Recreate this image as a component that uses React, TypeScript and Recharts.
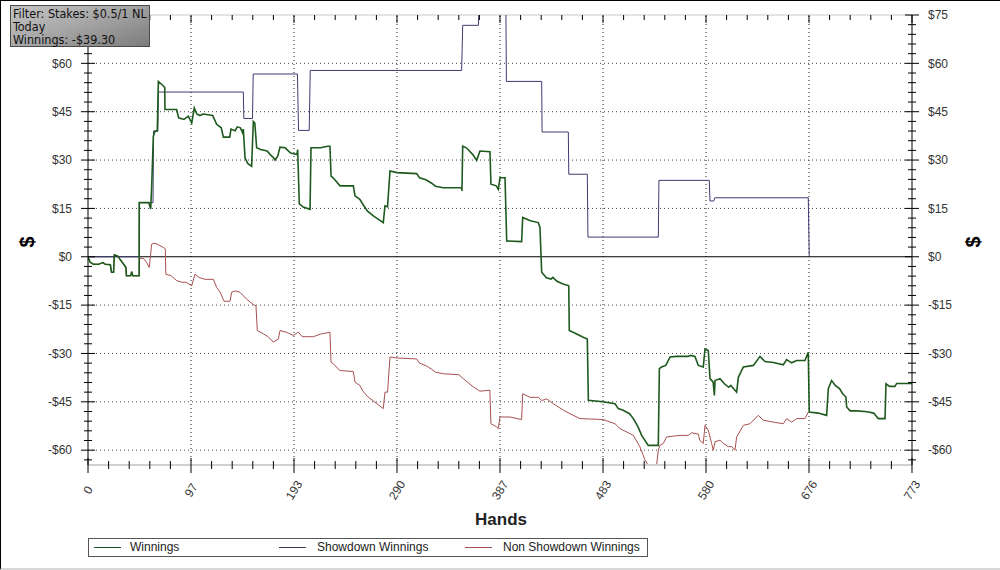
import React from 'react';
import { LineChart, Line, XAxis, YAxis, ReferenceLine } from 'recharts';

// ---- Data (hands, cumulative $) ----
const winningsHands = [
  0, 2, 5, 10, 14, 16, 21, 22, 24, 24.7, 28, 30, 35.6, 36, 40, 41, 42, 48, 48.1, 57,
  58.8, 59.7, 61.3, 62.9, 65, 66, 70, 72, 72.2, 83.2, 85, 90, 94.1, 97.3, 99.7, 102, 105, 108, 117, 120.7,
  125, 127, 133, 134.1, 138, 140, 143, 145, 145.7, 147.3, 150, 153.5, 155.1, 156.5, 158.2, 162, 168, 171, 174, 175.4,
  178, 180.1, 185, 190, 196, 196.7, 198.2, 202, 208.3, 209.2, 218, 225, 227, 228, 230, 236.4, 248.9, 250.5, 255, 258,
  262, 268, 277, 278.6, 281, 283.3, 290, 308.3, 311, 317, 322, 326, 333.3, 350.5, 350.8, 351.5, 355, 361, 364.6, 367.7,
  377.1, 378, 383, 384.9, 386.5, 391.2, 392.8, 406.8, 407.8, 415, 422.4, 424, 425.6, 430, 434.4, 436, 440, 445, 451, 451.5,
  458, 464, 468.4, 469.4, 483, 494.4, 497.5, 502, 508, 511.6, 516, 519.4, 525.6, 535, 536, 538, 542, 546, 552, 563,
  565, 569.4, 572.5, 577.2, 578.8, 581.9, 583.5, 586.5, 587.6, 588.2, 592.9, 597, 601, 603, 608.5, 610.1, 614.8, 624.2, 630.4, 635.1,
  643, 652.3, 655.4, 660, 664.8, 672.6, 675.7, 676.6, 685, 692.9, 694.5, 697.6, 701, 705, 708, 711, 711.7, 715, 721, 731,
  737, 741.4, 747.7, 748.6, 752, 757, 758.6, 773,
];
const winningsValues = [
  0, -1.7, -2.3, -2.3, -1.8, -2.3, -2.5, -4.8, -4.8, 0.6, 0.2, -0.8, -3.3, -5.9, -5.9, -4.6, -5.9, -5.9, 16.8, 16.8,
  14.8, 21.4, 37.4, 39, 39, 54.4, 53.2, 52.5, 45.7, 45.7, 43.1, 42.6, 43.6, 41.5, 46.2, 44.3, 43.8, 44.3, 43.8, 41.1,
  40, 37.1, 37.1, 39.6, 39.1, 40.3, 40, 38.5, 39.6, 30.7, 28.9, 28.1, 42, 41.5, 33.8, 33.3, 32.8, 31.7, 30.7, 30,
  31.2, 34, 33.8, 32.2, 31.7, 33.2, 16.4, 15.4, 14.7, 33.8, 33.8, 34.3, 34.3, 25, 24.5, 22, 22, 18.9, 17.8, 16.2,
  14.2, 12.6, 10.6, 15.8, 15.5, 26.6, 26.1, 25.8, 24.5, 23.9, 22.9, 21.9, 21.4, 21.4, 20.4, 34.3, 33.8, 31.7, 29.9, 32.8,
  32.6, 22.5, 22, 20.9, 24.5, 24.5, 4.9, 4.7, 12.2, 11.2, 10.6, 9.1, -4.8, -6.5, -6.9, -6.4, -7.6, -8.4, -9, -22.9,
  -23.9, -24.9, -25.5, -44.5, -45, -45.6, -47.1, -47.6, -48.7, -50.2, -52.8, -55.4, -58.5, -58.5, -34.7, -34.2, -33.7, -31.1, -30.9, -30.9,
  -30.6, -30.9, -33.7, -34.2, -28.6, -29.1, -37.8, -38.9, -43, -38.4, -37.8, -39.4, -40.5, -39.9, -42, -37.4, -34.2, -33.7, -30.9, -32.5,
  -32.8, -33.5, -31.9, -32.9, -32.2, -32.2, -29.6, -48.2, -48.5, -49.2, -40.9, -38.4, -39.9, -40.9, -42.5, -43.5, -46.6, -47.8, -47.8, -48.1,
  -48.5, -50.2, -50.2, -39.4, -40.2, -40.2, -39.3, -39.3,
];

const showdownHands = [
  0, 48, 48.1, 61, 61.5, 65.5, 66, 145.7, 146.2, 154.3, 155, 196.5, 197.5, 207.5, 208.5, 350.5, 351.5, 366.2, 367, 392,
  392.5, 425.6, 426, 450.6, 451, 468.4, 469, 535, 535.6, 582.8, 583.5, 587, 588, 675.7, 676.6,
];
const showdownValues = [
  0, 0, 16.8, 16.8, 39, 39, 51.1, 51.1, 42.9, 42.9, 56.7, 56.7, 39.2, 39.2, 57.8, 57.8, 71.8, 71.8, 78, 78,
  54.4, 54.4, 38.7, 38.7, 25.6, 25.6, 6.1, 6.1, 23.7, 23.7, 17.3, 17.3, 18.3, 18.3, 0,
];

const nonShowdownHands = [
  48.1, 52, 55, 57.5, 59.7, 62, 65, 70.6, 72.5, 73, 78, 83.2, 87.9, 92, 97.3, 100.4, 104, 109.8, 117.6, 120.7,
  124, 127.6, 133.2, 134.8, 138, 142.6, 148.9, 155, 157.6, 158.8, 164.5, 169, 173.9, 178.6, 180.1, 186, 192.6, 197.3, 201, 211.4,
  218, 227, 228, 230, 236.4, 248.9, 250.5, 255, 258, 262, 268, 277, 278.6, 281, 283.3, 290, 308.3, 311, 317, 322,
  326, 333.3, 348, 352, 361.5, 367.7, 377, 378, 383, 384.9, 386.5, 395.9, 406.8, 407.8, 414.7, 422.4, 425.6, 430.3, 436.6, 446,
  452.2, 461.5, 483.3, 494.4, 499, 511.6, 517.8, 520.9, 522.5, 525.6, 533.4, 535, 536.6, 539.7, 542.8, 555.3, 563.1, 566.3, 572.5, 574,
  577.2, 578.8, 581.9, 585, 586.6, 588.2, 592.9, 596, 600.7, 603.8, 606.9, 608.5, 614.8, 621, 628.8, 633.5, 642.9, 652.3, 655.4, 660.1,
  664.8, 672.6, 675.7,
];
const nonShowdownValues = [
  -0.5, -0.5, -1.8, -3.3, 3.9, 4.2, 3.9, 2.9, 2.5, -5.4, -5.9, -7.4, -7.9, -7.9, -9, -5.4, -6.4, -7, -7, -9.5,
  -11, -13.8, -13.8, -11, -10.6, -11, -13.2, -14.8, -15.2, -22.9, -23.9, -24.8, -26.5, -25.5, -22.9, -23.4, -24.4, -23.4, -24.8, -24.8,
  -24, -23.4, -32.7, -33.2, -35.3, -35.6, -38.9, -39.9, -41.7, -43.3, -44.8, -47.1, -42, -42, -31.1, -31.4, -31.7, -33, -33.8, -34.8,
  -35.8, -36.3, -36.6, -37.8, -40.4, -41.7, -41.4, -51.8, -52.7, -53.3, -49.7, -49.7, -50.5, -42.5, -43.6, -43.6, -44.6, -44.1, -45.6, -47.6,
  -48.7, -50.2, -50.5, -51.8, -53.3, -55.4, -59, -61.6, -63.1, -64.7, -64.7, -60, -58.5, -57.9, -55.9, -55.4, -55.4, -54.6, -55, -57,
  -57.9, -52.3, -53.8, -57.9, -60, -57.4, -56.9, -57.9, -58.9, -58.9, -60, -55.9, -52.3, -51.8, -49.2, -50.7, -51.3, -51.8, -50.2, -51.3,
  -50.2, -50.2, -48.2,
];

// early non-showdown hands coincide with winnings (no showdown yet)
const earlyCount = 18;

const xMax = 773;
const xTicks = Array.from({ length: 41 }, (_, i) => (i * xMax) / 40);
const yTicks = Array.from({ length: 47 }, (_, i) => -63 + i * 3);
const yDomain: [number, number] = [-64.6, 75];
const majorY = [60, 45, 30, 15, -15, -30, -45, -60];
const majorX = [1, 2, 3, 4, 5, 6, 7].map((i) => (i * xMax) / 8);

const winningsData = winningsHands.map((h, i) => ({ hand: h, value: winningsValues[i] }));
const showdownData = showdownHands.map((h, i) => ({ hand: h, value: showdownValues[i] }));
const nonShowdownData = [
  ...winningsHands.slice(0, earlyCount).map((h, i) => ({ hand: h, value: winningsValues[i] })),
  ...nonShowdownHands.map((h, i) => ({ hand: h, value: nonShowdownValues[i] })),
];

const fmtMoney = (v: number) => (v < 0 ? `-$${Math.abs(v)}` : `$${v}`);
const FONT = "Arial, 'Liberation Sans', sans-serif";

const PLOT_TOP = 15;

const LeftTick = (props: any) => {
  const { x, y, payload } = props;
  const v = payload.value;
  const major = v % 15 === 0;
  // the top label ($75) sits behind the filter box in the original, so it is not drawn
  return (
    <g>
      <line x1={major ? x - 7 : x - 4} x2={major ? x + 7 : x + 4} y1={y} y2={y} stroke="#000" strokeWidth={1} />
      {major && v < 75 && (
        <text x={x - 16} y={y} dy="0.35em" textAnchor="end" fontSize={12} fill="#333" fontFamily={FONT}>
          {fmtMoney(v)}
        </text>
      )}
    </g>
  );
};

const RightTick = (props: any) => {
  const { x, y, payload } = props;
  const v = payload.value;
  const major = v % 15 === 0;
  return (
    <g>
      <line x1={major ? x - 7 : x - 4} x2={major ? x + 7 : x + 4} y1={y} y2={y} stroke="#000" strokeWidth={1} />
      {major && (
        <text x={x + 16} y={y} dy="0.35em" textAnchor="start" fontSize={12} fill="#333" fontFamily={FONT}>
          {fmtMoney(v)}
        </text>
      )}
    </g>
  );
};

const BottomTick = (props: any) => {
  const { x, y, payload, index } = props;
  const major = index % 5 === 0;
  const label = Math.round(payload.value);
  return (
    <g>
      <line x1={x} x2={x} y1={major ? y - 7 : y - 4} y2={major ? y + 8 : y + 4} stroke="#000" strokeWidth={1} />
      <line x1={x} x2={x} y1={PLOT_TOP} y2={PLOT_TOP + (major ? 8 : 5)} stroke="#000" strokeWidth={1} />
      {major && (
        <text
          x={x}
          y={y + 25}
          dy="0.35em"
          textAnchor="middle"
          fontSize={12}
          fill="#333"
          fontFamily={FONT}
          transform={`rotate(-58, ${x}, ${y + 25})`}
        >
          {label}
        </text>
      )}
    </g>
  );
};

const legendItems = [
  { name: 'Winnings', color: '#1e5a1e', sx: 93, tx: 129 },
  { name: 'Showdown Winnings', color: '#3c3c64', sx: 278, tx: 316 },
  { name: 'Non Showdown Winnings', color: '#a05050', sx: 464, tx: 502 },
];

export default function App() {
  return (
    <div
      style={{
        position: 'absolute',
        left: 0,
        top: 0,
        width: 1000,
        height: 570,
        background: '#fff',
        boxSizing: 'border-box',
        borderTop: '1px solid #000',
        borderLeft: '1px solid #000',
        borderBottom: '2px solid #d8d8d8',
        overflow: 'hidden',
        fontFamily: FONT,
      }}
    >
      <div style={{ position: 'absolute', left: -1, top: -1 }}>
        <LineChart width={1000} height={570} margin={{ top: PLOT_TOP, right: 28, bottom: 65, left: 28 }}>
          <XAxis
            type="number"
            dataKey="hand"
            domain={[0, xMax]}
            ticks={xTicks}
            interval={0}
            tickSize={0}
            tickMargin={0}
            tickLine={false}
            height={40}
            axisLine={{ stroke: '#d0d0d0', strokeWidth: 2 }}
            tick={<BottomTick />}
            allowDataOverflow
          />
          <YAxis
            yAxisId="left"
            orientation="left"
            type="number"
            domain={yDomain}
            ticks={yTicks}
            interval={0}
            width={60}
            tickSize={0}
            tickMargin={0}
            tickLine={false}
            axisLine={{ stroke: '#000' }}
            tick={<LeftTick />}
            allowDataOverflow
          />
          <YAxis
            yAxisId="right"
            orientation="right"
            type="number"
            domain={yDomain}
            ticks={yTicks}
            interval={0}
            width={60}
            tickSize={0}
            tickMargin={0}
            tickLine={false}
            axisLine={{ stroke: '#000' }}
            tick={<RightTick />}
            allowDataOverflow
          />
          <ReferenceLine yAxisId="left" y={75} stroke="#c8c8c8" strokeWidth={1} ifOverflow="visible" />
          {majorY.map((v) => (
            <ReferenceLine key={`gy${v}`} yAxisId="left" y={v} stroke="#444" strokeDasharray="1 3" />
          ))}
          {majorX.map((v) => (
            <ReferenceLine key={`gx${v}`} yAxisId="left" x={v} stroke="#222" strokeDasharray="1 3" />
          ))}
          <ReferenceLine yAxisId="left" y={0} stroke="#000" strokeWidth={1} />
          <Line
            yAxisId="left"
            data={nonShowdownData}
            dataKey="value"
            type="linear"
            stroke="#a85050"
            strokeWidth={1}
            dot={false}
            activeDot={false}
            isAnimationActive={false}
          />
          <Line
            yAxisId="left"
            data={showdownData}
            dataKey="value"
            type="linear"
            stroke="#3c3c70"
            strokeWidth={1}
            dot={false}
            activeDot={false}
            isAnimationActive={false}
          />
          <Line
            yAxisId="left"
            data={winningsData}
            dataKey="value"
            type="linear"
            stroke="#1e5a1e"
            strokeWidth={1.6}
            dot={false}
            activeDot={false}
            isAnimationActive={false}
          />
        </LineChart>
      </div>

      {/* Axis titles */}
      <div
        style={{
          position: 'absolute',
          left: 16,
          top: 229,
          width: 20,
          height: 24,
          fontSize: 20,
          fontWeight: 'bold',
          textAlign: 'center',
          lineHeight: '24px',
          transform: 'rotate(-90deg)',
        }}
      >
        $
      </div>
      <div
        style={{
          position: 'absolute',
          left: 962,
          top: 229,
          width: 20,
          height: 24,
          fontSize: 20,
          fontWeight: 'bold',
          textAlign: 'center',
          lineHeight: '24px',
          transform: 'rotate(-90deg)',
        }}
      >
        $
      </div>
      <div
        style={{
          position: 'absolute',
          left: 400,
          top: 509,
          width: 200,
          textAlign: 'center',
          fontSize: 17,
          fontWeight: 'bold',
          color: '#222',
        }}
      >
        Hands
      </div>

      {/* Legend */}
      <div
        style={{
          position: 'absolute',
          left: 87,
          top: 537,
          width: 558,
          height: 17,
          border: '1px solid #555',
          background: '#fff',
        }}
      >
        {legendItems.map((it) => (
          <React.Fragment key={it.name}>
            <div
              style={{
                position: 'absolute',
                left: it.sx - 88,
                top: 8,
                width: 27,
                height: 0,
                borderTop: `1px solid ${it.color}`,
              }}
            />
            <div
              style={{
                position: 'absolute',
                left: it.tx - 88,
                top: 1,
                fontSize: 12,
                lineHeight: '15px',
                color: '#222',
                whiteSpace: 'nowrap',
              }}
            >
              {it.name}
            </div>
          </React.Fragment>
        ))}
      </div>

      {/* Filter box */}
      <div
        style={{
          position: 'absolute',
          left: 9,
          top: 4,
          width: 140,
          height: 42,
          border: '1px solid #4a4a4a',
          background: 'linear-gradient(160deg, #c4c4c4 0%, #a8a8a8 45%, #7c7c7c 100%)',
          fontFamily: "'DejaVu Sans Condensed', 'DejaVu Sans', sans-serif",
          fontSize: 12.5,
          lineHeight: '13px',
          color: '#111',
          padding: '1px 0 0 2px',
          boxSizing: 'border-box',
          whiteSpace: 'nowrap',
        }}
      >
        <div>Filter: Stakes: $0.5/1 NL</div>
        <div>Today</div>
        <div>Winnings: -$39.30</div>
      </div>
    </div>
  );
}
